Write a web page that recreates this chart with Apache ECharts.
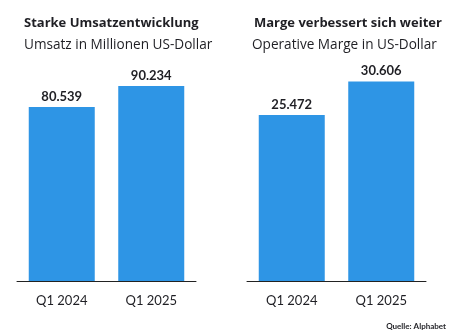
<!DOCTYPE html>
<html>
<head>
<meta charset="utf-8">
<script src="https://cdn.jsdelivr.net/npm/echarts@6/dist/echarts.min.js"></script>
<style>
  html, body { margin: 0; padding: 0; background: #fff; }
  #chart { width: 465px; height: 331px; }
</style>
</head>
<body>
<div id="chart"></div>
<script>
// Quarterly figures (millions of US dollars)
const categories = ['Q1 2024', 'Q1 2025'];
const revenue = [80539, 90234];
const operatingIncome = [25472, 30606];

const barColor = '#2e95e5';
const textColor = '#1f1f24';
const fontFamily = 'Lato, "Noto Sans", sans-serif';
const titleFont = '"Open Sans", Lato, sans-serif';

// German thousands separator
const fmt = v => v.toLocaleString('de-DE');

const chart = echarts.init(document.getElementById('chart'), null, { renderer: 'canvas' });

function xAxisFor(gridIndex) {
  return {
    type: 'category',
    gridIndex,
    data: categories,
    axisTick: { show: false },
    axisLine: { lineStyle: { color: '#222', width: 1 } },
    axisLabel: { color: textColor, fontSize: 13, fontFamily, margin: 13 }
  };
}

function yAxisFor(gridIndex, max) {
  return {
    type: 'value',
    gridIndex,
    min: 0,
    max,
    show: false,
    splitLine: { show: false }
  };
}

function barSeries(idx, data) {
  return {
    type: 'bar',
    xAxisIndex: idx,
    yAxisIndex: idx,
    data,
    barWidth: 66,
    itemStyle: { color: barColor },
    label: {
      show: true,
      position: 'top',
      distance: 4,
      formatter: p => fmt(p.value),
      color: textColor,
      fontWeight: 'bold',
      fontSize: 13,
      fontFamily
    }
  };
}

chart.setOption({
  animation: false,
  title: [
    { text: 'Starke Umsatzentwicklung', left: 19, top: 12,
      textStyle: { fontSize: 13, fontWeight: 'bold', color: textColor, fontFamily: titleFont } },
    { text: 'Umsatz in Millionen US-Dollar', left: 19, top: 33,
      textStyle: { fontSize: 13.6, fontWeight: 'normal', color: textColor, fontFamily: titleFont } },
    { text: 'Marge verbessert sich weiter', left: 249, top: 12,
      textStyle: { fontSize: 13, fontWeight: 'bold', color: textColor, fontFamily: titleFont } },
    { text: 'Operative Marge in US-Dollar', left: 247, top: 33,
      textStyle: { fontSize: 13.6, fontWeight: 'normal', color: textColor, fontFamily: titleFont } },
    { text: 'Quelle: Alphabet', right: 14, top: 317,
      textStyle: { fontSize: 8, fontWeight: 'bold', color: textColor, fontFamily } }
  ],
  grid: [
    { left: 17, width: 179, top: 65, height: 216 },
    { left: 247, width: 179, top: 53, height: 228 }
  ],
  xAxis: [xAxisFor(0), xAxisFor(1)],
  yAxis: [yAxisFor(0, 100000), yAxisFor(1, 35000)],
  series: [barSeries(0, revenue), barSeries(1, operatingIncome)]
});
</script>
</body>
</html>
